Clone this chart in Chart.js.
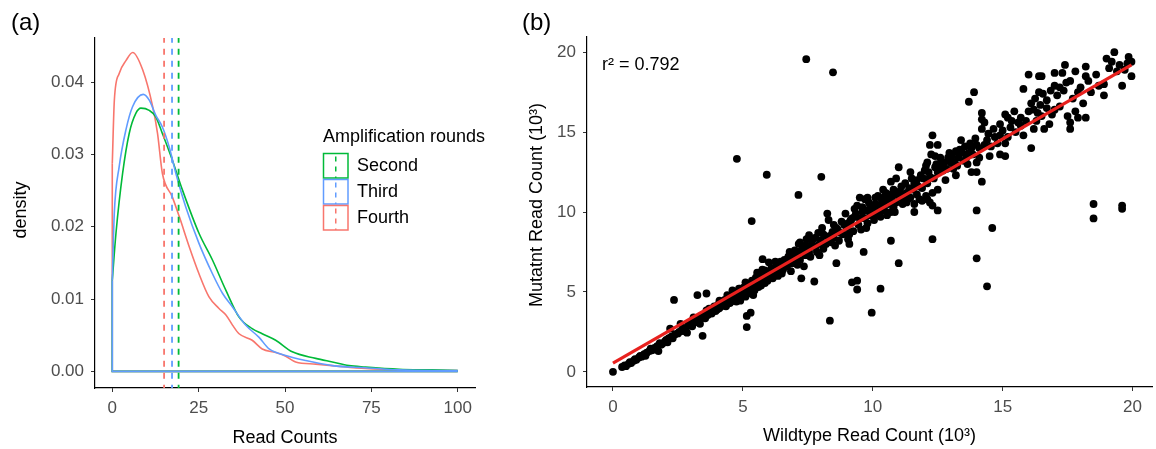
<!DOCTYPE html>
<html><head><meta charset="utf-8">
<script src="https://cdn.jsdelivr.net/npm/chart.js@4.4.1/dist/chart.umd.min.js"></script>
<style>
html,body{margin:0;padding:0;background:#fff;overflow:hidden;width:1156px;height:449px;}
canvas{position:absolute;top:0;}
#cA{left:0;} #cB{left:520px;}
</style></head><body>
<canvas id="cA" width="520" height="449"></canvas>
<canvas id="cB" width="636" height="449"></canvas>
<script>
const FONT = '"Liberation Sans", Arial, Helvetica, sans-serif';

// ---------- Panel (a): density of read counts ----------
const seriesNames  = ['Second', 'Third', 'Fourth'];
const seriesColors = ['#00BA38', '#619CFF', '#F8766D'];
const meanReads    = [19.2, 17.3, 15.0];

const secondX = [0,1.07,3.0,4.9,6.85,8.3,10.7,12.6,14.5,17.4,20.3,25.1,29,32.9,36.7,40.5,43.4,47.3,52.1,58.9,63.7,68.5,73.3,83,92.6,100];
const secondY = [0.0126,0.0191,0.0274,0.0329,0.0357,0.0364,0.0361,0.0352,0.0329,0.0292,0.0251,0.0191,0.0154,0.0112,0.0075,0.0059,0.0052,0.0043,0.0027,0.0018,0.0013,0.0008,0.0006,0.0003,0.0002,0.0001];
const thirdX  = [0,0.58,2.0,3.95,5.87,8.96,10.7,12.6,14.5,16.5,18.4,21.3,25.1,29,31.9,34.8,38.6,42.5,45.4,50.2,56,63.7,73.3,83,100];
const thirdY  = [0.0126,0.0218,0.0283,0.0334,0.0366,0.0383,0.0375,0.0354,0.0338,0.0310,0.0274,0.0227,0.0177,0.0135,0.0108,0.0089,0.0064,0.0047,0.0031,0.0022,0.0015,0.0008,0.0005,0.0002,0.0001];
const fourthX = [0,0.6,2,4,5.9,8.8,11.7,13.1,14.5,17.4,19.4,22.3,25.1,28,30.9,32.9,34.8,36.7,40.5,43.4,47.3,50.2,53.1,58.9,63.7,73.3,83,100];
const fourthY = [0.0287,0.0375,0.0412,0.0430,0.0441,0.0417,0.0366,0.0329,0.0274,0.0241,0.0214,0.0172,0.0135,0.0103,0.0087,0.0078,0.0064,0.0052,0.0043,0.0031,0.0026,0.0021,0.0013,0.0010,0.0008,0.0004,0.0002,0.0001];

const xTicksA = [0, 25, 50, 75, 100];
const yTicksA = [0, 0.01, 0.02, 0.03, 0.04];

// ---------- Panel (b): wildtype vs mutant read counts (10^3) ----------
const readPairs = [
[0,0],[0.35,0.3],[0.45,0.4],[0.5,0.35],[0.6,0.5],[0.65,0.6],[0.7,0.55],[0.8,0.7],[0.85,0.8],[0.9,0.75],
[1.0,0.9],[1.05,1.0],[1.1,0.95],[1.2,1.1],[1.25,1.0],[1.3,1.2],[1.4,1.3],[1.45,1.45],[1.5,1.35],[1.6,1.5],
[1.65,1.4],[1.7,1.6],[1.75,1.3],[1.8,1.8],[1.85,1.7],[1.9,1.75],[2.0,1.9],[2.05,2.0],[2.1,1.85],[2.15,2.1],
[2.2,2.7],[2.25,2.2],[2.3,2.1],[2.35,4.5],[2.4,2.35],[2.5,2.4],[2.55,2.5],[2.6,3.0],[2.65,2.6],[2.7,2.55],
[2.8,2.75],[2.85,2.45],[2.9,2.9],[3.0,3.0],[3.05,2.85],[3.1,3.4],[3.15,3.1],[3.2,3.2],[3.25,4.8],[3.3,3.3],
[3.35,3.0],[3.4,3.5],[3.45,2.25],[3.5,3.4],[3.55,3.6],[3.6,4.9],[3.6,3.85],[3.65,3.55],[3.7,3.7],[3.75,3.8],
[3.8,3.65],[3.85,4.0],[3.9,3.9],[3.95,3.8],[4.0,4.1],[4.0,3.9],[4.05,4.2],[4.1,4.45],[4.1,4.0],[4.15,4.1],
[4.2,4.3],[4.25,4.15],[4.3,4.5],[4.3,4.2],[4.35,4.35],[4.4,4.8],[4.4,4.25],[4.45,4.5],[4.5,4.6],[4.5,4.3],
[4.55,4.7],[4.6,5.1],[4.6,4.5],[4.65,4.8],[4.7,4.6],[4.7,5.0],[4.75,4.4],[4.8,4.9],[4.85,5.2],[4.9,4.45],
[4.9,5.2],[4.95,4.8],[5.0,5.0],[5.05,5.3],[5.1,5.6],[5.1,4.7],[5.15,2.8],[5.15,3.5],[5.2,4.9],[5.2,5.4],
[5.3,3.7],[5.3,5.2],[5.35,5.7],[5.4,4.8],[5.45,5.5],[5.5,5.9],[5.5,5.3],[5.6,5.6],[5.65,6.0],[5.7,5.4],
[5.76,7.05],[5.8,5.8],[5.85,6.35],[5.9,6.1],[5.95,5.7],[6.0,6.85],[6.0,6.2],[6.1,6.5],[6.15,5.85],[6.2,6.3],
[6.3,6.7],[6.35,6.0],[6.4,6.55],[6.45,6.9],[6.5,6.15],[6.55,6.4],[6.6,7.0],[6.7,6.6],[6.75,7.2],[6.8,7.5],
[6.85,6.3],[6.9,6.8],[6.95,7.1],[7.0,7.6],[7.05,6.9],[7.1,7.4],[7.15,8.0],[7.2,8.1],[7.2,7.0],[7.25,5.85],
[7.3,7.7],[7.35,6.6],[7.4,7.3],[7.45,8.3],[7.5,7.8],[7.55,8.55],[7.6,7.2],[7.65,8.0],[7.7,7.9],[7.75,5.65],
[7.8,8.4],[7.85,7.5],[7.9,8.7],[7.95,7.3],[8.0,8.2],[8.05,9.0],[8.1,7.7],[8.15,8.5],[8.25,9.9],[8.3,9.5],
[8.35,3.2],[8.4,8.1],[8.45,8.75],[8.5,9.2],[8.55,7.9],[8.6,6.8],[8.65,8.9],[8.7,8.2],[8.8,9.4],[8.85,8.6],
[8.95,9.9],[9.0,9.0],[9.05,8.3],[9.1,8.0],[9.15,9.5],[9.2,5.6],[9.2,9.6],[9.25,8.8],[9.3,9.7],[9.35,9.9],
[9.4,5.7],[9.4,5.15],[9.4,10.4],[9.45,9.2],[9.5,10.9],[9.55,8.9],[9.6,10.3],[9.65,7.5],[9.7,9.6],[9.7,10.8],
[9.75,10.1],[9.8,9.3],[9.85,10.6],[9.9,9.8],[9.9,10.4],[9.96,3.7],[10.0,10.2],[10.05,9.5],[10.1,10.9],[10.15,9.9],
[10.2,10.4],[10.2,11.0],[10.3,5.2],[10.3,9.7],[10.35,10.7],[10.4,10.9],[10.4,10.5],[10.45,10.1],[10.5,11.2],[10.55,9.8],
[10.6,10.5],[10.6,11.1],[10.7,10.0],[10.7,8.2],[10.7,11.9],[10.75,11.0],[10.8,10.3],[10.9,12.1],[10.9,10.6],[10.9,11.2],
[11.0,12.8],[11.0,6.8],[11.05,11.3],[11.1,11.6],[11.15,10.5],[11.2,11.0],[11.3,11.2],[11.3,10.6],[11.35,10.8],[11.45,12.5],
[11.5,12.1],[11.55,11.4],[11.6,11.8],[11.6,10.0],[11.6,10.5],[11.7,11.1],[11.8,10.8],[11.85,12.3],[11.9,11.5],[11.9,10.7],
[12.0,12.6],[12.05,11.0],[12.1,13.1],[12.1,11.8],[12.1,10.8],[12.2,14.2],[12.2,12.2],[12.2,10.6],[12.25,13.6],[12.3,14.8],
[12.3,11.2],[12.3,10.4],[12.3,8.3],[12.4,13.5],[12.4,12.8],[12.5,14.2],[12.5,12.5],[12.5,11.4],[12.5,10.1],[12.6,12.8],
[12.65,13.0],[12.75,13.1],[12.8,12.0],[12.9,13.4],[13.0,13.1],[13.1,12.7],[13.2,13.8],[13.2,12.3],[13.3,13.4],[13.4,14.5],
[13.5,13.2],[13.6,13.4],[13.7,13.7],[13.7,16.9],[13.8,14.0],[13.8,12.5],[13.9,17.5],[14.0,14.2],[14.0,13.1],[14.0,12.5],
[14.0,10.1],[14.0,7.1],[14.1,14.0],[14.2,16.2],[14.2,15.8],[14.2,15.2],[14.2,11.9],[14.3,15.6],[14.4,14.5],[14.4,5.35],
[14.5,13.5],[14.6,9.0],[14.7,14.7],[14.9,15.5],[14.9,14.8],[14.9,13.6],[15.1,16.1],[15.1,14.3],[15.1,13.5],[15.2,15.9],
[15.3,15.3],[15.5,15.0],[15.7,15.9],[15.7,15.4],[15.8,17.7],[15.8,14.8],[16.0,18.6],[16.0,16.3],[16.1,14.0],[16.2,16.4],
[16.2,15.2],[16.3,15.7],[16.4,18.5],[16.4,17.5],[16.45,16.7],[16.5,18.5],[16.5,16.0],[16.6,15.2],[16.7,17.0],[16.8,15.5],
[17.0,18.7],[17.0,17.9],[17.0,16.4],[17.2,17.8],[17.2,16.6],[17.3,18.7],[17.4,19.2],[17.5,16.0],[17.6,18.2],[17.6,15.6],
[17.6,15.2],[17.8,16.3],[17.9,17.5],[17.9,15.9],[18.2,19.1],[18.2,18.5],[18.2,15.9],[18.4,17.5],[18.5,10.5],[18.5,9.6],
[18.9,18.0],[18.9,17.3],[19.0,19.6],[19.2,19.4],[19.3,20.0],[19.4,18.8],[19.6,17.9],[19.6,10.4],[19.6,10.2],[19.85,19.7],
[19.96,19.4],[19.96,18.5],
[4.77,13.33],[5.92,12.33],[8.02,12.2],[7.14,11.07],[5.34,9.43],[7.44,19.56],[8.47,18.74],
[9.15,9.3],[9.3,10.2],[9.5,9.6],[9.6,10.0],[9.75,9.0],[9.8,10.9],[10.0,9.9],[10.1,10.5],[10.25,10.0],[10.4,11.4],
[10.5,10.6],[10.65,10.8],[10.8,11.4],[10.85,10.0],[11.0,11.0],[11.1,10.9],[11.25,11.8],[11.4,11.5],[11.45,10.9],[11.7,12.0],
[11.75,11.6],[11.95,12.1],[12.05,12.9],[12.15,12.5],[12.35,12.1],[12.45,13.0],[12.6,13.4],[12.7,12.6],[12.85,12.7],[12.95,13.7],
[13.05,13.5],[13.15,13.1],[13.25,12.9],[13.35,13.9],[13.45,13.7],[13.55,14.1],[13.65,13.0],[13.75,14.3],[13.85,13.6],[13.95,14.6],
[14.1,13.4],[14.3,14.2],[14.45,14.9],[14.55,14.1],[14.65,15.2],[14.8,14.3],[15.0,15.1],[15.2,14.7],[15.35,15.7],[15.45,16.3],
[15.6,15.6],[15.9,15.7],[16.1,16.8],[16.25,17.1],[16.35,16.2],[16.55,17.4],[16.7,16.5],[16.85,17.6],[16.9,16.1],[17.1,17.3],
[17.35,17.6],[17.45,18.1],[17.7,17.1],[17.8,18.8],[18.0,17.8],[18.1,16.8],[18.3,18.2],[18.6,18.6],[18.7,17.9],[19.1,19.0],
[19.5,19.2],[19.7,18.9],[19.8,19.3],
[5.55,6.2],[5.75,6.4],[6.05,6.0],[6.25,6.9],[6.45,6.3],[6.65,6.8],[6.8,7.0],[7.0,7.2],[7.1,6.7],[7.25,7.6],
[7.4,7.9],[7.55,7.5],[7.7,8.3],[7.8,7.8],[7.95,8.0],[8.1,8.6],[8.2,8.0],[8.35,8.5],[8.5,8.4],[8.6,9.0],
[8.75,8.7],[8.9,9.2],[9.05,9.3],[9.1,8.6],
[3.1,3.15],[3.3,3.1],[3.45,3.55],[3.55,3.35],[3.7,3.95],[3.8,3.85],[3.9,4.1],[4.05,3.95],[4.15,4.35],[4.25,4.4],
[4.35,4.1],[4.45,4.65],[4.55,4.4],[4.65,4.6],[4.75,4.95],[4.85,4.7],[4.95,5.1],[5.05,4.9],[5.25,5.1],[5.35,5.35],
[5.45,5.1],[5.6,5.3],[5.7,5.7],[5.85,5.55]
];
const fitX = [0, 19.96];
const fitY = [0.54, 19.2];
const xTicksB = [0, 5, 10, 15, 20];
const yTicksB = [0, 5, 10, 15, 20];
const rSquared = '0.792';

// ---------- helpers ----------
function axisCommon(tickVals, fmt, pad) {
  return {
    type: 'linear',
    afterBuildTicks: s => { s.ticks = tickVals.map(v => ({ value: v })); },
    ticks: { font: { size: 17, family: FONT }, color: '#4D4D4D', padding: pad, autoSkip: false, maxRotation: 0,
             callback: v => fmt(v) },
    grid: { display: true, drawOnChartArea: false, drawTicks: true, tickLength: 4, color: '#333333', lineWidth: 1 },
    border: { display: true, color: '#000000', width: 1.2 }
  };
}

function textPlugin(id, drawFn) {
  return { id, afterDraw(chart) { const c = chart.ctx; c.save(); drawFn(c, chart); c.restore(); } };
}

// ---------- Chart (a) ----------
const dens = [[secondX, secondY], [thirdX, thirdY], [fourthX, fourthY]];
const curveOrder = [2, 1, 3];
const dsA = [];
dens.forEach(([xs, ys], i) => {
  dsA.push({ type: 'line', data: xs.map((x, j) => ({ x, y: ys[j] })), borderColor: seriesColors[i], borderWidth: 1.6,
             pointRadius: 0, fill: false, cubicInterpolationMode: 'monotone', order: curveOrder[i] + 1 });
  dsA.push({ type: 'line', data: [{ x: xs[0], y: ys[0] }, { x: xs[0], y: 0 }, { x: xs[xs.length - 1], y: 0 }],
             borderColor: seriesColors[i], borderWidth: 1.6, pointRadius: 0, fill: false, tension: 0, order: curveOrder[i] + 1 });
  dsA.push({ type: 'line', data: [{ x: meanReads[i], y: -1 }, { x: meanReads[i], y: 1 }], borderColor: seriesColors[i],
             borderWidth: 1.8, borderDash: [6, 6], pointRadius: 0, fill: false, order: 0 });
});

const xA = axisCommon(xTicksA, v => String(v), 6);
xA.min = -5; xA.max = 105;
xA.title = { display: true, text: 'Read Counts', font: { size: 18, family: FONT }, color: '#000', padding: { top: 0, bottom: 0 } };
xA.afterFit = s => { s.height = 61; };
const yA = axisCommon(yTicksA, v => v.toFixed(2), 7);
yA.min = -0.0023; yA.max = 0.0461;
yA.afterFit = s => { s.width = 95; };

const legendA = textPlugin('legendA', (c) => {
  c.fillStyle = '#000';
  c.font = '24px ' + FONT; c.textBaseline = 'alphabetic'; c.textAlign = 'left';
  c.fillText('(a)', 11, 30);
  c.font = '18px ' + FONT;
  c.fillText('Amplification rounds', 323, 142);
  c.save(); c.translate(21, 210); c.rotate(-Math.PI / 2); c.textAlign = 'center'; c.textBaseline = 'middle';
  c.fillText('density', 0, 0); c.restore();
  seriesNames.forEach((name, i) => {
    const top = 153 + i * 26;
    c.strokeStyle = seriesColors[i]; c.lineWidth = 1.5; c.setLineDash([]);
    c.strokeRect(323.5, top + 0.5, 24.5, 24.5);
    c.lineWidth = 1.5; c.setLineDash([5, 5]); c.lineDashOffset = -3;
    c.beginPath(); c.moveTo(335.75, top + 0.5); c.lineTo(335.75, top + 25); c.stroke();
    c.setLineDash([]);
    c.fillStyle = '#000'; c.textBaseline = 'alphabetic';
    c.fillText(name, 357, top + 17.5);
  });
});

new Chart(document.getElementById('cA'), {
  type: 'line',
  data: { datasets: dsA },
  options: {
    responsive: false, animation: false, devicePixelRatio: 1,
    layout: { padding: { left: 0, top: 38, right: 45, bottom: 0 } },
    plugins: { legend: { display: false }, tooltip: { enabled: false } },
    scales: { x: xA, y: yA }
  },
  plugins: [legendA]
});

// ---------- Chart (b) ----------
const xB = axisCommon(xTicksB, v => String(v), 6);
xB.min = -1; xB.max = 20.75;
xB.title = { display: true, text: 'Wildtype Read Count (10³)', font: { size: 18, family: FONT }, color: '#000', padding: { top: 0, bottom: 2 } };
xB.afterFit = s => { s.height = 62; };
const yB = axisCommon(yTicksB, v => String(v), 7);
yB.min = -0.95; yB.max = 20.95;
yB.afterFit = s => { s.width = 67; };

const textB = textPlugin('textB', (c) => {
  c.fillStyle = '#000';
  c.font = '24px ' + FONT; c.textBaseline = 'alphabetic'; c.textAlign = 'left';
  c.fillText('(b)', 2, 30);
  c.font = '18px ' + FONT;
  c.fillText('r² = ' + rSquared, 82, 70);
  c.save(); c.translate(17, 205); c.rotate(-Math.PI / 2); c.textAlign = 'center'; c.textBaseline = 'middle';
  c.fillText('Mutatnt Read Count (10³)', 0, 0); c.restore();
});

new Chart(document.getElementById('cB'), {
  type: 'scatter',
  data: { datasets: [
    { type: 'line', data: fitX.map((x, i) => ({ x, y: fitY[i] })), borderColor: '#E8211E', borderWidth: 3.2,
      pointRadius: 0, fill: false, order: 0 },
    { type: 'scatter', data: readPairs.map(p => ({ x: p[0], y: p[1] })), backgroundColor: '#000000',
      borderWidth: 0, pointRadius: 3.9, order: 1 }
  ] },
  options: {
    responsive: false, animation: false, devicePixelRatio: 1,
    layout: { padding: { left: 0, top: 37, right: 0, bottom: 0 } },
    plugins: { legend: { display: false }, tooltip: { enabled: false } },
    scales: { x: xB, y: yB }
  },
  plugins: [textB]
});
</script>
</body></html>
